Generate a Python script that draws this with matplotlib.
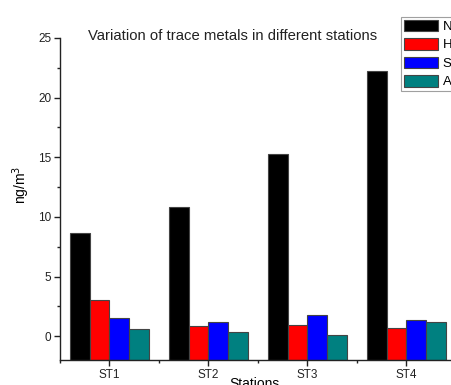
import numpy as np
import matplotlib
matplotlib.use("Agg")
import matplotlib.pyplot as plt
from matplotlib.ticker import MultipleLocator

plt.rcParams['font.family'] = ['Liberation Sans', 'DejaVu Sans']

# data
stations = ['ST1', 'ST2', 'ST3', 'ST4']
metals = ['N', 'H', 'S', 'A']
n_vals = [8.65, 10.85, 15.28, 22.2]
h_vals = [3.04, 0.86, 0.97, 0.69]
s_vals = [1.50, 1.20, 1.76, 1.34]
a_vals = [0.64, 0.31, 0.06, 1.20]
colors = ['#000000', '#ff0000', '#0000ff', '#008080']

ymin, ymax = -2, 25

fig = plt.figure(figsize=(4.51, 3.85), dpi=100)
ax = fig.add_axes([60 / 451, 25 / 385, 396 / 451, 322 / 385])

x = np.arange(1, len(stations) + 1)
width = 0.2
series = [n_vals, h_vals, s_vals, a_vals]
for i, (vals, col, lab) in enumerate(zip(series, colors, metals)):
    vals = np.array(vals)
    ax.bar(x + (i - 1.5) * width, vals - ymin, bottom=ymin, width=width,
           color=col, edgecolor='#444444', linewidth=0.8, label=lab)

ax.set_xlim(0.5, 4.5)
ax.set_ylim(ymin, ymax)
ax.set_xticks(x)
ax.set_xticklabels(stations)
ax.xaxis.set_minor_locator(MultipleLocator(1.0, offset=0.5))
ax.set_yticks([0, 5, 10, 15, 20, 25])
ax.yaxis.set_minor_locator(MultipleLocator(2.5))

for side in ['top', 'right']:
    ax.spines[side].set_visible(False)
ax.spines['left'].set_bounds(ymin, ymax)
for side in ['left', 'bottom']:
    ax.spines[side].set_linewidth(1.0)
    ax.spines[side].set_color('#222222')

ax.tick_params(axis='both', which='major', direction='out', length=4.3, width=1,
               labelsize=8.5, colors='#222222', labelcolor='#222222', pad=2)
ax.tick_params(axis='both', which='minor', direction='out', length=2.2, width=1,
               colors='#222222')

ax.set_ylabel('ng/m$^3$', fontsize=10)
ax.yaxis.set_label_coords(-0.07, 0.543)
ax.set_xlabel('Stations', fontsize=10)
ax.xaxis.set_label_coords(0.49, -0.053)

fig.text(233 / 451, 1 - 36 / 385, 'Variation of trace metals in different stations',
         ha='center', va='center', fontsize=10.7, color='#222222')

leg = ax.legend(loc='upper left', bbox_to_anchor=(401 / 451, 1 - 17 / 385),
                bbox_transform=fig.transFigure, fontsize=9.5, frameon=True,
                fancybox=False, edgecolor='#888888', borderpad=0.2,
                handlelength=2.6, handleheight=1.0, handletextpad=0.35,
                labelspacing=0.38, borderaxespad=0)
leg.get_frame().set_linewidth(0.8)

fig.savefig('out.png', dpi=100)
